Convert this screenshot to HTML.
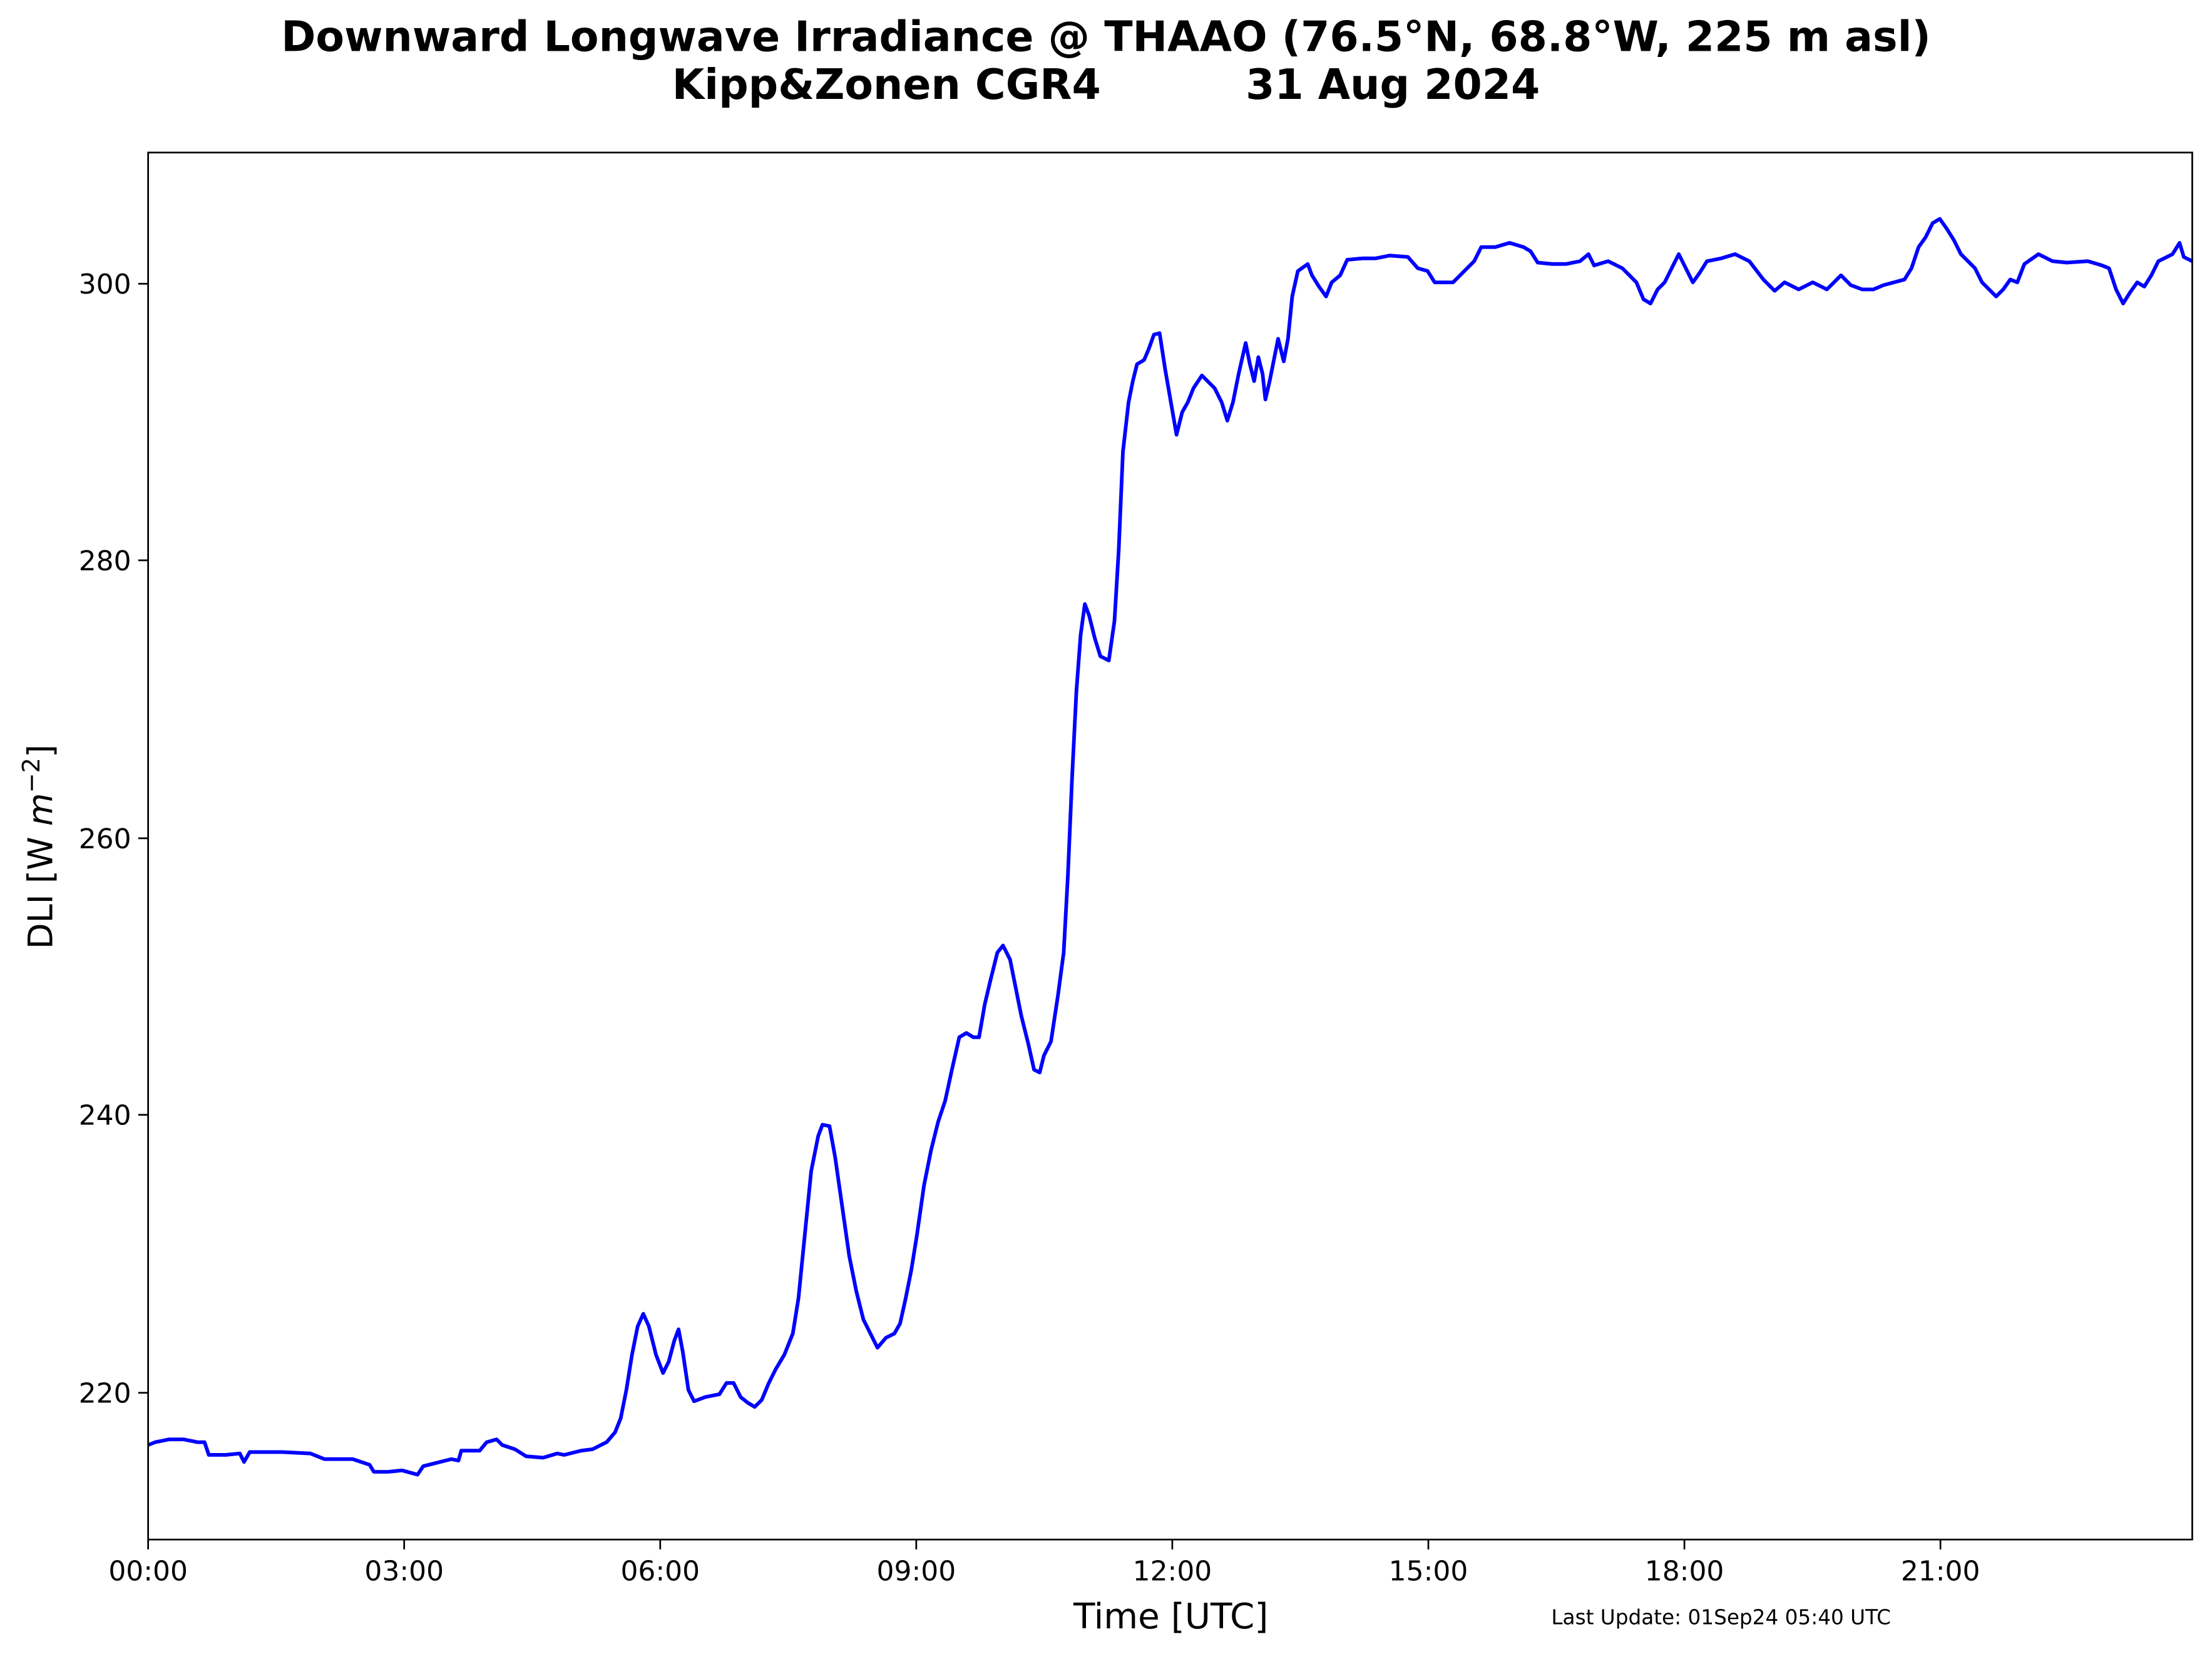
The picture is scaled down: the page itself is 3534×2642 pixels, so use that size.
<!DOCTYPE html>
<html><head><meta charset="utf-8"><style>html,body{margin:0;padding:0;background:#fff}svg{display:block}</style></head>
<body>
<svg width="3534" height="2642" viewBox="0 0 1568 1172" xmlns="http://www.w3.org/2000/svg" font-family="'DejaVu Sans','Liberation Sans',sans-serif">
<rect width="1568" height="1172" fill="#fff"/>
<text x="784" y="36" font-size="29.5" font-weight="bold" text-anchor="middle">Downward Longwave Irradiance @ THAAO (76.5°N, 68.8°W, 225 m asl)</text>
<text x="784" y="70" font-size="29.5" font-weight="bold" text-anchor="middle" xml:space="preserve">Kipp&amp;Zonen CGR4          31 Aug 2024</text>
<g stroke="#000" stroke-width="1.2">
<line x1="105" y1="987" x2="98" y2="987"/><line x1="105" y1="790" x2="98" y2="790"/><line x1="105" y1="594" x2="98" y2="594"/><line x1="105" y1="397" x2="98" y2="397"/><line x1="105" y1="201" x2="98" y2="201"/>
<line x1="105" y1="1091" x2="105" y2="1098"/><line x1="286.5" y1="1091" x2="286.5" y2="1098"/><line x1="468" y1="1091" x2="468" y2="1098"/><line x1="649.5" y1="1091" x2="649.5" y2="1098"/><line x1="831" y1="1091" x2="831" y2="1098"/><line x1="1012.5" y1="1091" x2="1012.5" y2="1098"/><line x1="1194" y1="1091" x2="1194" y2="1098"/><line x1="1375.5" y1="1091" x2="1375.5" y2="1098"/>
</g>
<g font-size="19.5" text-anchor="end">
<text x="93" y="994">220</text><text x="93" y="797">240</text><text x="93" y="601">260</text><text x="93" y="404">280</text><text x="93" y="208">300</text>
</g>
<g font-size="19.5" text-anchor="middle">
<text x="105" y="1120">00:00</text><text x="286.5" y="1120">03:00</text><text x="468" y="1120">06:00</text><text x="649.5" y="1120">09:00</text><text x="831" y="1120">12:00</text><text x="1012.5" y="1120">15:00</text><text x="1194" y="1120">18:00</text><text x="1375.5" y="1120">21:00</text>
</g>
<text x="830" y="1154" font-size="25" text-anchor="middle">Time [UTC]</text>
<text x="1220" y="1151" font-size="14.5" text-anchor="middle">Last Update: 01Sep24 05:40 UTC</text>
<text transform="translate(37,600) rotate(-90)" font-size="24" text-anchor="middle">DLI [W <tspan font-style="italic">m</tspan><tspan font-size="17" dy="-9">−2</tspan><tspan dy="9">]</tspan></text>
<svg x="105" y="108" width="1449" height="983" viewBox="105 108 1449 983" overflow="hidden">
<polyline fill="none" stroke="#0000ff" stroke-width="2.6" stroke-linejoin="round" points="105,1024 110,1022 115,1021 120,1020 130,1020 140,1022 145,1022 148,1031 160,1031 170,1030 173,1036 177,1029 200,1029 220,1030 230,1034 250,1034 262,1038 265,1043 275,1043 285,1042 296,1045 300,1039 320,1034 325,1035 327,1028 340,1028 345,1022 352,1020 356,1024 365,1027 373,1032 385,1033 395,1030 400,1031 412,1028 420,1027 430,1022 436,1015 440,1005 444,985 448,960 452,940 456,931 460,940 465,960 470,973 474,965 478,950 481,942 484,958 488,985 492,993 500,990 510,988 515,980 520,980 525,990 530,994 535,997 540,992 545,980 550,970 556,960 562,945 566,920 570,880 575,830 580,805 583,797 588,798 592,820 597,855 602,890 607,915 612,935 617,945 622,955 628,948 634,945 638,938 642,920 646,900 650,875 655,840 660,815 665,795 670,780 675,757 680,735 685,732 690,735 694,735 698,712 702,695 707,675 711,670 716,680 720,700 724,720 729,740 733,758 737,760 740,748 745,738 750,705 754,675 757,620 760,550 763,490 766,450 769,428 772,436 776,452 780,465 786,468 790,440 793,390 796,320 800,285 803,270 806,258 811,255 814,248 818,237 822,236 826,262 830,285 834,308 838,292 842,285 846,275 852,266 856,270 861,275 866,285 870,298 874,285 878,265 883,243 886,258 889,270 892,253 895,265 897,283 900,270 903,255 906,240 910,256 913,240 916,210 920,192 927,187 930,195 935,203 940,210 944,200 950,195 955,184 966,183 975,183 985,181 998,182 1005,190 1012,192 1017,200 1030,200 1040,190 1045,185 1050,175 1060,175 1070,172 1080,175 1085,178 1090,186 1100,187 1110,187 1120,185 1126,180 1130,188 1140,185 1150,190 1160,200 1165,212 1170,215 1175,205 1180,200 1185,190 1190,180 1195,190 1200,200 1205,193 1210,185 1220,183 1230,180 1240,185 1250,198 1258,206 1265,200 1275,205 1285,200 1295,205 1300,200 1305,195 1312,202 1320,205 1328,205 1335,202 1350,198 1355,190 1360,175 1365,168 1370,158 1375,155 1380,162 1385,170 1390,180 1400,190 1405,200 1415,210 1420,205 1425,198 1430,200 1435,187 1445,180 1455,185 1465,186 1480,185 1490,188 1495,190 1500,205 1505,215 1510,207 1515,200 1520,203 1525,195 1530,185 1540,180 1545,172 1548,182 1554,185"/>
</svg>
<rect x="105" y="108" width="1449" height="983" fill="none" stroke="#000" stroke-width="1.2"/>
</svg>
</body></html>
